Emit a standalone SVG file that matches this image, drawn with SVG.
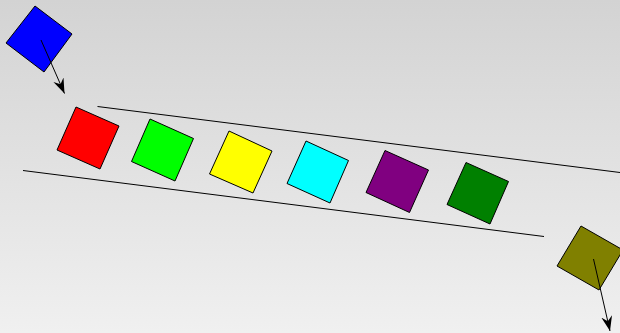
<svg xmlns="http://www.w3.org/2000/svg" width="620" height="333" viewBox="0 0 620 333">
  <defs>
    <linearGradient id="bg" x1="0" y1="0" x2="0" y2="1">
      <stop offset="0" stop-color="#d3d3d3"/>
      <stop offset="1" stop-color="#f0f0f0"/>
    </linearGradient>
    <marker id="ah" viewBox="-15 -6 16 12" refX="0" refY="0" markerWidth="16" markerHeight="12" orient="auto" markerUnits="userSpaceOnUse">
      <path d="M0,0 L-15,-5.5 L-10,0 L-15,5.5 Z" fill="#000"/>
    </marker>
    <style>
      .sq { stroke: #000; stroke-width: 1; stroke-linejoin: round; }
      .rail { stroke: #000; stroke-width: 1; fill: none; }
      .arrow { stroke: #000; stroke-width: 1; fill: none; marker-end: url(#ah); }
    </style>
  </defs>
  <rect x="0" y="0" width="620" height="333" fill="url(#bg)"/>

  <g id="rails">
    <line class="rail" x1="97.5" y1="106.5" x2="620" y2="172.5"/>
    <line class="rail" x1="23" y1="170.5" x2="544" y2="236.5"/>
  </g>

  <g id="blue"><polygon class="sq" fill="#0000ff" points="35,6 72,34 44,72 6,43"/></g>
  <g id="red"><polygon class="sq" fill="#ff0000" points="76,107 119,126 100,169 57,150"/></g>
  <g id="green"><polygon class="sq" fill="#00ff00" points="150,119 193.5,138.5 175,181 131.5,161.5"/></g>
  <g id="yellow"><polygon class="sq" fill="#ffff00" points="229,131 272,151 253,193 209.5,174"/></g>
  <g id="cyan"><polygon class="sq" fill="#00ffff" points="306,141 348.5,160.5 330,203 287,183.5"/></g>
  <g id="purple"><polygon class="sq" fill="#800080" points="385,150.5 428.5,170 409.5,212.5 366,192.5"/></g>
  <g id="darkgreen"><polygon class="sq" fill="#008000" points="466,162.5 508.5,181.5 490,224 447,204.5"/></g>
  <g id="olive"><polygon class="sq" fill="#808000" points="581,226 623,250 599,290 557,266"/></g>

  <g id="connectors">
    <line class="arrow" x1="41" y1="40" x2="64.5" y2="93.5"/>
    <line class="arrow" x1="593.5" y1="259" x2="610" y2="331"/>
  </g>
</svg>
